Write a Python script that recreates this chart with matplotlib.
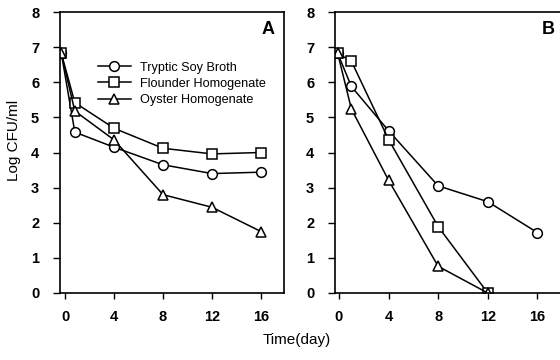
import matplotlib.pyplot as plt

plt.rcParams['font.family'] = ['Liberation Sans', 'DejaVu Sans']

# panel A
days_a = [-0.3, 0.8, 4, 8, 12, 16]
tsb_a = [6.82, 4.58, 4.15, 3.65, 3.40, 3.44]
flounder_a = [6.82, 5.42, 4.69, 4.12, 3.96, 4.00]
oyster_a = [6.82, 5.18, 4.36, 2.80, 2.44, 1.75]

# panel B
days_b = [-0.1, 1, 4, 8, 12, 16]
tsb_b = [6.82, 5.88, 4.62, 3.05, 2.60, 1.72]
days_b_sq = [-0.1, 1, 4, 8, 12]
flounder_b = [6.82, 6.60, 4.37, 1.89, 0.0]
oyster_b = [6.82, 5.24, 3.21, 0.76, 0.0]

xticks = [0, 4, 8, 12, 16]
yticks = [0, 1, 2, 3, 4, 5, 6, 7, 8]

fig = plt.figure(figsize=(5.6, 3.6), dpi=100)
ax1 = fig.add_axes([60/560, 1-293/360, 224/560, 281/360])
ax2 = fig.add_axes([335/560, 1-293/360, 228/560, 281/360])

st = dict(color='black', lw=1.1, markerfacecolor='white', markeredgecolor='black',
          markersize=7, markeredgewidth=1.1)

ax1.plot(days_a, tsb_a, marker='o', label='Tryptic Soy Broth', **st)
ax1.plot(days_a, flounder_a, marker='s', label='Flounder Homogenate', **st)
ax1.plot(days_a, oyster_a, marker='^', label='Oyster Homogenate', **st)

ax2.plot(days_b, tsb_b, marker='o', **st)
ax2.plot(days_b_sq, flounder_b, marker='s', **st)
ax2.plot(days_b_sq, oyster_b, marker='^', **st)

for ax, left, ppd in ((ax1, -0.41, 224/12.25), (ax2, -0.32, 228/12.4)):
    ax.set_xlim(left, left + ppd)
    ax.set_ylim(0, 8)
    ax.set_xticks(xticks)
    ax.set_yticks(yticks)
    ax.tick_params(direction='out', length=4, width=1, labelsize=10.5)
    for lab in ax.get_xticklabels() + ax.get_yticklabels():
        lab.set_fontweight('bold')
    ax.tick_params(axis='x', pad=8)
    ax.tick_params(axis='y', length=5, pad=10)
    for s in ax.spines.values():
        s.set_linewidth(1.2)

ax1.text(0.96, 0.92, 'A', transform=ax1.transAxes, ha='right', fontsize=13, fontweight='bold')
ax2.text(0.965, 0.92, 'B', transform=ax2.transAxes, ha='right', fontsize=13, fontweight='bold')

fig.text(14/560, 1-140/360, 'Log CFU/ml', rotation=90, ha='center', va='center', fontsize=11)
fig.text(297/560, 1-340/360, 'Time(day)', ha='center', va='center', fontsize=11)

ax1.legend(loc='upper left', bbox_to_anchor=(0.14, 0.845), frameon=False, fontsize=9.1,
           handlelength=2.6, labelspacing=0.32, handletextpad=0.75, borderpad=0)

fig.savefig('out.png')
